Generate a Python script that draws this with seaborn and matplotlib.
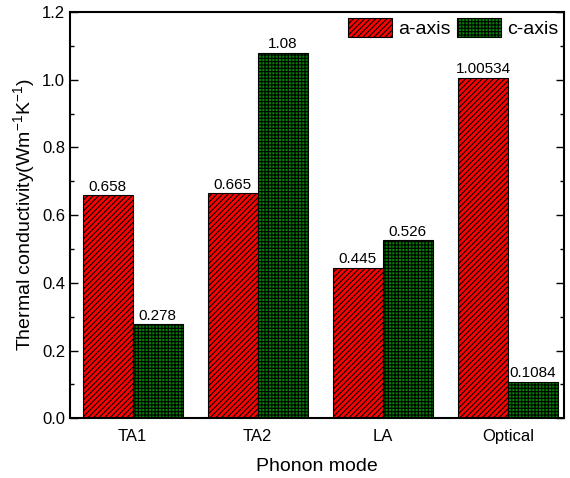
import matplotlib
matplotlib.use('Agg')
import matplotlib.pyplot as plt
from matplotlib.ticker import MultipleLocator
import pandas as pd
import seaborn as sns

modes = ["TA1", "TA2", "LA", "Optical"]
a_axis = [0.658, 0.665, 0.445, 1.00534]
c_axis = [0.278, 1.08, 0.526, 0.1084]
a_labels = ["0.658", "0.665", "0.445", "1.00534"]
c_labels = ["0.278", "1.08", "0.526", "0.1084"]

df = pd.DataFrame({
	"mode": modes * 2,
	"value": a_axis + c_axis,
	"axis": ["a-axis"] * 4 + ["c-axis"] * 4,
})

sns.set_style("ticks", {"text.color": "black", "axes.labelcolor": "black",
	"xtick.color": "black", "ytick.color": "black", "axes.edgecolor": "black"})
plt.rcParams['font.family'] = ['Liberation Sans', 'DejaVu Sans']
plt.rcParams['mathtext.default'] = 'regular'
plt.rcParams['hatch.linewidth'] = 0.8

fig, ax = plt.subplots(figsize=(5.7, 4.78), dpi=100)
sns.barplot(data=df, x="mode", y="value", hue="axis", order=modes,
	palette={"a-axis": "red", "c-axis": "green"}, width=0.8,
	edgecolor="black", linewidth=0.8, saturation=1, errorbar=None, ax=ax)

hatches = {"a-axis": "//////", "c-axis": "+++++"}
for cont, key, labs in zip(ax.containers, ["a-axis", "c-axis"], [a_labels, c_labels]):
	for bar in cont:
		bar.set_hatch(hatches[key])
	ax.bar_label(cont, labels=labs, fontsize=11, padding=1, color="black")

ax.set_ylim(0, 1.2)
ax.set_xlim(-0.5, 3.45)
ax.yaxis.set_major_locator(MultipleLocator(0.2))
ax.yaxis.set_minor_locator(MultipleLocator(0.1))
ax.tick_params(axis='y', which='both', direction='in', right=True, labelsize=12)
ax.tick_params(axis='y', which='major', length=6, width=1)
ax.tick_params(axis='y', which='minor', length=3, width=1)
ax.tick_params(axis='x', length=0, labelsize=12, pad=8)
for s in ax.spines.values():
	s.set_linewidth(1.5)
	s.set_visible(True)

ax.set_xlabel("Phonon mode", fontsize=14, labelpad=10)
ax.set_ylabel("Thermal conductivity(Wm$^{-1}$K$^{-1}$)", fontsize=14, labelpad=4)

leg = ax.legend(loc="upper right", ncol=2, frameon=False, fontsize=14,
	handlelength=2.3, handleheight=1.15, columnspacing=0.3, handletextpad=0.3,
	borderaxespad=0.1, borderpad=0.2)
for h, key in zip(leg.legend_handles, ["a-axis", "c-axis"]):
	h.set_hatch(hatches[key])

plt.subplots_adjust(left=0.123, right=0.99, bottom=0.125, top=0.975)
plt.savefig('out.png')
